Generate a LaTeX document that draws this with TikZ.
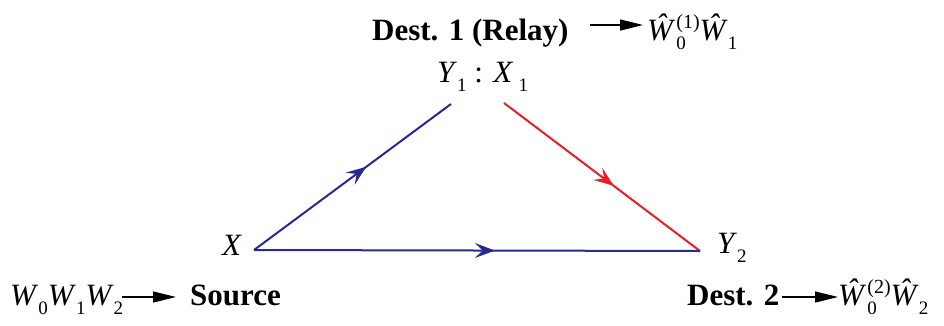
\documentclass[tikz,border=0pt]{standalone}
\usepackage{fontspec}
\setmainfont{Liberation Serif}
\usetikzlibrary{arrows.meta,decorations.markings}
\definecolor{lineblue}{RGB}{40,40,145}
\definecolor{linered}{RGB}{235,28,36}
\newcommand\lsub[1]{\raisebox{-0.32em}{\fontsize{19}{19}\selectfont #1}}
\newcommand\lsup[1]{\raisebox{0.36em}{\fontsize{20}{20}\selectfont #1}}
\newcommand\subsup[2]{\rlap{\lsub{#1}}\lsup{#2}}
\begin{document}
\begin{tikzpicture}[x=1pt,y=-1pt,
  txt/.style={inner sep=0pt,anchor=base west,font=\fontsize{31}{36}\selectfont},
  blackarrow/.style={line width=1.2pt,-{Triangle[length=23pt,width=11pt]}},
  midarrow/.style={decoration={markings,mark=at position #1 with {\arrow{Stealth[length=20pt,width=15pt,inset=8pt]}}},postaction=decorate},
  blueline/.style={line width=2pt,color=lineblue},
  redline/.style={line width=2pt,color=linered}]
\useasboundingbox (0,0) rectangle (944,325);
% texts
\node[txt] (relay) at (372,40) {\textbf{Dest. 1 (Relay)}};
\node[txt] (est1) at (647,40) {\textit{Ŵ}\kern1pt\subsup{0}{(1)}\textit{Ŵ}\lsub{1}};
\node[txt] (y1x1) at (437,82) {\textit{Y}\lsub{1} : \textit{X}\,\lsub{1}};
\node[txt] (xlab) at (222,255) {\textit{X}};
\node[txt] (y2lab) at (717,253) {\textit{Y}\lsub{2}};
\node[txt] (msg) at (10,305) {\textit{W}\lsub{0}\textit{W}\lsub{1}\textit{W}\lsub{2}};
\node[txt] (source) at (190,305) {\textbf{Source}};
\node[txt] (dest2) at (687,305) {\textbf{Dest. 2}};
\node[txt] (est2) at (838,305) {\textit{Ŵ}\kern1pt\subsup{0}{(2)}\textit{Ŵ}\lsub{2}};
% black arrows
\coordinate (a1s) at (590,25); \coordinate (a1e) at (643,25);
\coordinate (a2s) at (122,297); \coordinate (a2e) at (176,297);
\coordinate (a3s) at (782,297); \coordinate (a3e) at (838,297);
\draw[blackarrow] (a1s) -- (a1e);
\draw[blackarrow] (a2s) -- (a2e);
\draw[blackarrow] (a3s) -- (a3e);
% triangle
\coordinate (x) at (254,250);
\coordinate (r1) at (451,104);
\coordinate (r2) at (504,103);
\coordinate (y) at (700,251);
\draw[blueline,midarrow=0.57] (x) -- (r1);
\draw[redline,midarrow=0.56] (r2) -- (y);
\draw[blueline,midarrow=0.54] (x) -- (y);
\end{tikzpicture}
\end{document}
